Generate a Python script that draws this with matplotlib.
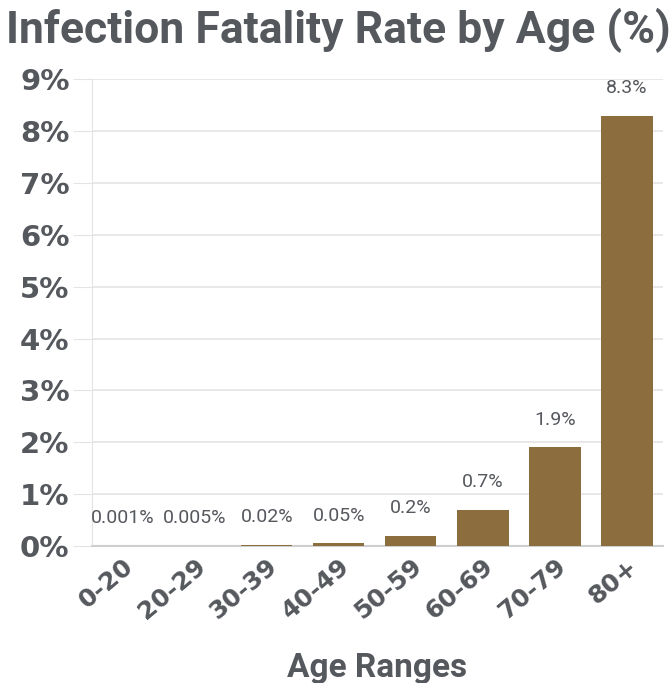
import matplotlib
matplotlib.use('Agg')
import matplotlib.pyplot as plt

# infection fatality rate by age group
age_ranges = ['0-20', '20-29', '30-39', '40-49', '50-59', '60-69', '70-79', '80+']
ifr = [0.001, 0.005, 0.02, 0.05, 0.2, 0.7, 1.9, 8.3]
ifr_labels = ['0.001%', '0.005%', '0.02%', '0.05%', '0.2%', '0.7%', '1.9%', '8.3%']
y_ticks = [0, 1, 2, 3, 4, 5, 6, 7, 8, 9]

text_col = '#55585d'
bar_col = '#8b6d3e'
grid_col = '#e4e4e4'

fig = plt.figure(figsize=(6.7, 6.83), dpi=100)
ax = fig.add_axes([0.137, 0.2006, 0.8526, 0.6834])

x = list(range(len(age_ranges)))
ax.bar(x, ifr, width=0.71, color=bar_col, zorder=3)

for xi, v, lab in zip(x, ifr, ifr_labels):
    ax.annotate(lab, (xi, v), xytext=(0, 20), textcoords='offset points',
                ha='center', va='center', fontsize=14, color=text_col,
                family=['Roboto', 'DejaVu Sans'])

ax.set_xlim(-0.43, 7.5)
ax.set_ylim(0, 9)
ax.set_yticks(y_ticks)
ax.set_yticklabels(['%d%%' % t for t in y_ticks], fontsize=21, fontweight='bold',
                   color=text_col, family='DejaVu Sans')
ax.set_xticks(x)
ax.set_xticklabels(age_ranges, rotation=40, ha='right', rotation_mode='anchor',
                   fontsize=18, fontweight='bold', color=text_col,
                   family='DejaVu Sans')
ax.tick_params(axis='y', length=14, color=grid_col, pad=2)
ax.tick_params(axis='x', length=0, pad=6)

ax.grid(axis='y', color=grid_col, linewidth=1.2, zorder=0)
for s in ['top', 'right']:
    ax.spines[s].set_visible(False)
ax.spines['left'].set_color(grid_col)
ax.spines['bottom'].set_color('#cfcfcf')
ax.spines['bottom'].set_linewidth(1.5)

ax.set_xlabel('Age Ranges', fontsize=24, fontweight='bold', color=text_col,
              family=['Roboto', 'DejaVu Sans'], va='center')
ax.xaxis.set_label_coords(0.5, -0.262)

fig.text(0.505, 0.955, 'Infection Fatality Rate by Age (%)', ha='center', va='center',
         fontsize=32, fontweight='bold', color=text_col,
         family=['Roboto', 'DejaVu Sans'])

plt.savefig('out.png', dpi=100)
